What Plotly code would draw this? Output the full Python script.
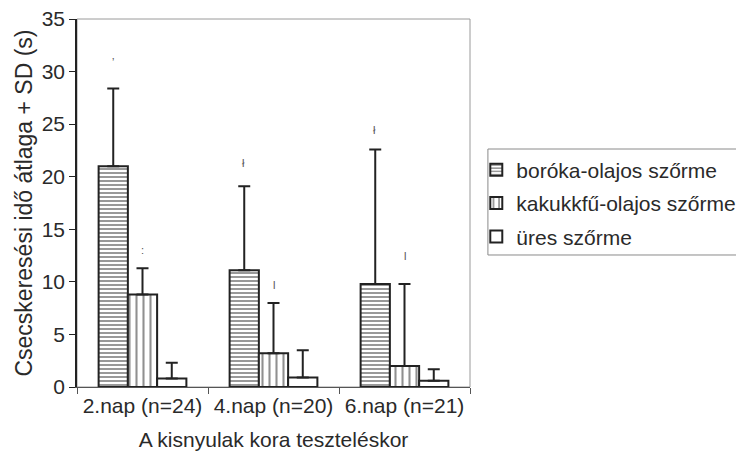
import plotly.graph_objects as go

categories = ["2.nap (n=24)", "4.nap (n=20)", "6.nap (n=21)"]
series_names = ["boróka-olajos szőrme", "kakukkfű-olajos szőrme", "üres szőrme"]
boroka_mean = [21.0, 11.1, 9.8]
boroka_sd = [7.4, 8.0, 12.8]
kakukk_mean = [8.8, 3.2, 2.0]
kakukk_sd = [2.5, 4.8, 7.8]
ures_mean = [0.8, 0.9, 0.6]
ures_sd = [1.5, 2.6, 1.1]

# faint marks printed above some bars in the scan
mark_text = ["ʼ", ":", "ł", "l", "ł", "l"]
mark_cat = ["2.nap (n=24)", "2.nap (n=24)", "4.nap (n=20)", "4.nap (n=20)", "6.nap (n=21)", "6.nap (n=21)"]
mark_series = [0, 1, 0, 1, 0, 1]
mark_y = [30.9, 13.0, 21.3, 9.7, 24.4, 12.5]

FONT = "Liberation Sans, Arial, sans-serif"
TXT = "#2a2a2a"
FS = 21

patterns = [
    dict(shape="-", size=4, solidity=0.5, fgcolor="#333333", bgcolor="#ffffff", fillmode="overlay"),
    dict(shape="|", size=7, solidity=0.3, fgcolor="#222222", bgcolor="#ffffff", fillmode="overlay"),
    dict(shape="", fgcolor="#ffffff", bgcolor="#ffffff"),
]
means = [boroka_mean, kakukk_mean, ures_mean]
sds = [boroka_sd, kakukk_sd, ures_sd]

fig = go.Figure()
for i in range(3):
    fig.add_trace(go.Bar(
        name=series_names[i],
        legendgroup="g%d" % i,
        x=categories,
        y=means[i],
        marker=dict(color="#ffffff", pattern=patterns[i],
                    line=dict(color="#222222", width=2)),
        error_y=dict(type="data", array=sds[i], arrayminus=[0] * len(sds[i]),
                     symmetric=False, color="#222222", thickness=2, width=6),
    ))

# bar centre offsets inside a group in pixels
shift = {0: -30, 1: 0, 2: 30}
for t, c, s, yv in zip(mark_text, mark_cat, mark_series, mark_y):
    fig.add_annotation(x=c, y=yv, xref="x", yref="y", text=t, showarrow=False,
                       xshift=shift[s], font=dict(family=FONT, size=11, color="#555555"))

# plot frame (grey, as in the scan)
fig.add_shape(type="rect", xref="paper", yref="paper", x0=0, y0=0, x1=1, y1=1,
              line=dict(color="#9a9a9a", width=1), layer="below")
# legend frame
fig.add_shape(type="rect", xref="paper", yref="paper", x0=1.0456, y0=0.3587, x1=1.70, y1=0.6467,
              line=dict(color="#8a8a8a", width=1), layer="below")

fig.update_layout(
    width=736, height=460,
    margin=dict(l=69, r=274, t=11, b=81, autoexpand=False),
    paper_bgcolor="#ffffff", plot_bgcolor="#ffffff",
    barmode="group", bargap=0.33, bargroupgap=0,
    font=dict(family=FONT, size=FS, color=TXT),
    legend=dict(x=1.0160, y=0.645, xanchor="left", yanchor="top",
                borderwidth=0, bgcolor="rgba(0,0,0,0)",
                font=dict(family=FONT, size=FS, color=TXT),
                itemwidth=30, tracegroupgap=3),
    showlegend=True,
)
fig.update_xaxes(
    showline=True, linecolor="#555555", linewidth=1,
    ticks="outside", tickson="boundaries", ticklen=6, tickcolor="#555555",
    tickfont=dict(family=FONT, size=FS, color=TXT),
    title=dict(text="A kisnyulak kora teszteléskor", standoff=16,
               font=dict(family=FONT, size=FS, color=TXT)),
    automargin=False,
)
fig.update_yaxes(
    range=[0, 35], tickvals=[0, 5, 10, 15, 20, 25, 30, 35],
    showline=True, linecolor="#222222", linewidth=1.5,
    ticks="outside", ticklen=6, tickcolor="#222222",
    ticklabeloverflow="allow",
    showgrid=False, zeroline=False,
    tickfont=dict(family=FONT, size=FS, color=TXT),
    title=dict(text="Csecskeresési idő átlaga + SD (s)", standoff=3,
               font=dict(family=FONT, size=23, color=TXT)),
    automargin=False,
)

fig.write_html("out.html")
